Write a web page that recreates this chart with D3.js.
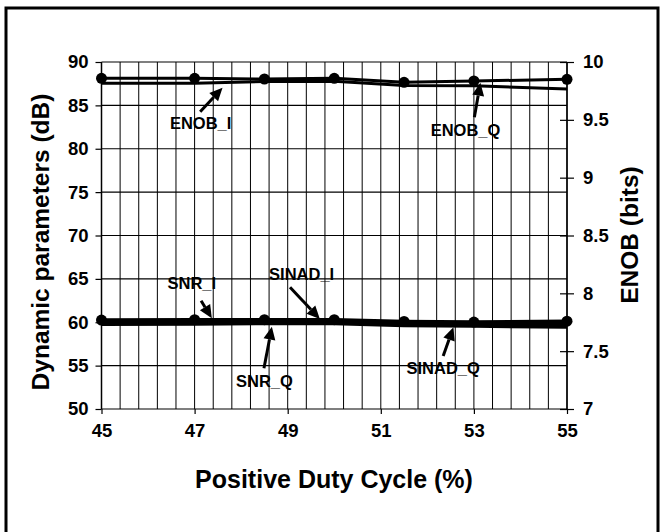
<!DOCTYPE html>
<html><head><meta charset="utf-8">
<script src="https://cdn.jsdelivr.net/npm/d3@7"></script>
<style>body{margin:0;background:#fff}svg{display:block}text{font-family:"Liberation Sans",Arial,sans-serif;font-weight:bold;fill:#000}</style>
</head><body>
<svg id="c" width="664" height="532"></svg>
<script>
// ---- data ----
const duty = [45, 47, 48.5, 50, 51.5, 53, 55];
const ENOB_Q = [9.859, 9.859, 9.853, 9.859, 9.824, 9.836, 9.850];
const ENOB_I = [9.816, 9.816, 9.832, 9.834, 9.797, 9.795, 9.767];
const SNR_I  = [60.25, 60.30, 60.30, 60.30, 60.10, 60.02, 60.12];
const SINAD_I= [60.08, 60.12, 60.12, 60.15, 59.92, 59.88, 59.88];
const SNR_Q  = [59.92, 59.96, 60.00, 60.00, 59.78, 59.72, 59.66];
const SINAD_Q= [59.76, 59.80, 59.85, 59.85, 59.62, 59.56, 59.45];
const leftTicks = [50, 55, 60, 65, 70, 75, 80, 85, 90];
const rightTicks = [7, 7.5, 8, 8.5, 9, 9.5, 10];
const xTicks = [45, 47, 49, 51, 53, 55];
const xTitle = "Positive Duty Cycle (%)";
const yTitle = "Dynamic parameters (dB)";
const y2Title = "ENOB (bits)";
// annotations: label [x, y] (data units), arrow tail, arrow tip
const annLabels = ["ENOB_I", "ENOB_Q", "SNR_I", "SINAD_I", "SNR_Q", "SINAD_Q"];
const annLabelPos = [[47.13, 82.22], [52.82, 81.47], [46.94, 63.83], [49.30, 64.87], [48.50, 52.54], [52.34, 54.04]];
const annTail = [[47.12, 84.27], [53.01, 83.63], [47.14, 62.48], [49.05, 64.03], [48.49, 54.69], [52.34, 56.11]];
const annTip  = [[47.60, 87.04], [53.14, 87.61], [47.37, 60.46], [49.69, 60.37], [48.66, 59.49], [52.56, 59.42]];

// ---- layout ----
const svg = d3.select("#c");
const L = 101.5, R = 567, T = 62, B = 409;
const x = d3.scaleLinear().domain([45, 55]).range([L, R]);
const y = d3.scaleLinear().domain([50, 90]).range([B, T]);
const y2 = d3.scaleLinear().domain([7, 10]).range([B, T]);

// frame
svg.append("path").attr("d", "M6,532V8H658V532").attr("fill", "none").attr("stroke", "#000").attr("stroke-width", 3);

// grid
const g = svg.append("g");
g.selectAll(".hg").data(leftTicks).join("line")
  .attr("x1", L).attr("x2", R).attr("y1", d => y(d)).attr("y2", d => y(d))
  .attr("stroke", "#000").attr("stroke-width", 1.2);
g.selectAll(".vg").data(d3.range(0, 26).map(i => 45 + i * 0.4)).join("line")
  .attr("x1", d => x(d)).attr("x2", d => x(d)).attr("y1", T).attr("y2", B)
  .attr("stroke", "#000").attr("stroke-width", 1);

// axes
const axL = d3.axisLeft(y).tickValues(leftTicks).tickSize(6).tickPadding(7).tickFormat(d3.format("d"));
const gL = svg.append("g").attr("transform", `translate(${L},0)`).call(axL);
const axR = d3.axisRight(y2).tickValues(rightTicks).tickSize(7).tickPadding(9).tickFormat(d => d);
const gR = svg.append("g").attr("transform", `translate(${R},0)`).call(axR);
gR.selectAll(".tick line").attr("x1", -7);
const axB = d3.axisBottom(x).tickValues(xTicks).tickSize(5).tickPadding(10).tickFormat(d3.format("d"));
const gB = svg.append("g").attr("transform", `translate(0,${B})`).call(axB);
[gL, gR, gB].forEach(a => {
  a.select(".domain").attr("stroke", "#000").attr("stroke-width", 1.5);
  a.selectAll(".tick line").attr("stroke", "#000").attr("stroke-width", 1.2);
  a.selectAll(".tick text").style("font-size", "18.5px").style("font-family", '"Liberation Sans",Arial,sans-serif').style("font-weight", "bold").attr("fill", "#000");
});
gB.selectAll(".domain").remove();
gL.select(".domain").attr("d", `M0,${T}V${B}`);
gR.select(".domain").attr("d", `M0,${T}V${B}`);

// titles
svg.append("text").attr("x", 334).attr("y", 488).attr("text-anchor", "middle").style("font-size", "25px").text(xTitle);
svg.append("text").attr("transform", `translate(49,242) rotate(-90)`).attr("text-anchor", "middle").style("font-size", "24.5px").text(yTitle);
svg.append("text").attr("transform", `translate(638,235) rotate(-90)`).attr("text-anchor", "middle").style("font-size", "24.5px").text(y2Title);

// series
const lineL = vals => d3.line().x((d, i) => x(duty[i])).y(d => y(d))(vals);
const lineR = vals => d3.line().x((d, i) => x(duty[i])).y(d => y2(d))(vals);
const ser = svg.append("g").attr("fill", "none").attr("stroke", "#000").attr("stroke-linejoin", "round");
ser.append("path").attr("d", lineR(ENOB_I)).attr("stroke-width", 3);
ser.append("path").attr("d", lineR(ENOB_Q)).attr("stroke-width", 3);
[SINAD_Q, SNR_Q, SINAD_I, SNR_I].forEach(s => ser.append("path").attr("d", lineL(s)).attr("stroke-width", 3.5));
svg.append("g").selectAll("circle").data(ENOB_Q).join("circle")
  .attr("cx", (d, i) => x(duty[i])).attr("cy", d => y2(d)).attr("r", 5.5).attr("fill", "#000");
svg.append("g").selectAll("circle").data(SNR_I).join("circle")
  .attr("cx", (d, i) => x(duty[i])).attr("cy", d => y(d)).attr("r", 5.5).attr("fill", "#000");

// annotations
const ann = svg.append("g");
annLabels.forEach((lab, i) => {
  ann.append("text").attr("x", x(annLabelPos[i][0])).attr("y", y(annLabelPos[i][1]))
    .attr("text-anchor", "middle").style("font-size", "16.5px").text(lab);
  const x0 = x(annTail[i][0]), y0 = y(annTail[i][1]), x1 = x(annTip[i][0]), y1 = y(annTip[i][1]);
  const ang = Math.atan2(y1 - y0, x1 - x0), hl = 13, hw = 6;
  const bx = x1 - hl * Math.cos(ang), by = y1 - hl * Math.sin(ang);
  ann.append("line").attr("x1", x0).attr("y1", y0).attr("x2", bx).attr("y2", by).attr("stroke", "#000").attr("stroke-width", 3);
  const px = -Math.sin(ang) * hw, py = Math.cos(ang) * hw;
  ann.append("path").attr("d", `M${x1},${y1}L${bx + px},${by + py}L${bx - px},${by - py}Z`).attr("fill", "#000");
});
</script>
</body></html>
